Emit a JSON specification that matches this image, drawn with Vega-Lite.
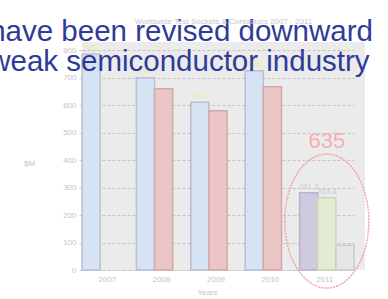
{
  "$schema": "https://vega.github.io/schema/vega-lite/v6.json",
  "width": 283,
  "height": 228,
  "autosize": {"type": "none"},
  "padding": {"left": 82, "top": 42, "right": 23, "bottom": 29},
  "background": "white",
  "config": {
    "font": "Liberation Sans",
    "view": {"fill": "#ebebeb", "stroke": null},
    "axisY": {"tickCount": 9, "labelOverlap": false, "grid": true, "gridColor": "#c4c4c4", "gridDash": [3, 2], "domain": false, "tickColor": "#cccccc", "tickSize": 3, "labelFontSize": 8, "labelColor": "#c4c4c4", "labelPadding": 3},
    "axisX": {"labelAngle": 0, "labelFontSize": 8, "labelColor": "#c4c4c4", "labelOffset": -2, "labelPadding": 5, "ticks": false, "domainColor": "#cccccc", "domainDash": [2, 1], "grid": false}
  },
  "title": {"text": "Worldwide Test Sockets & Contactors 2007 - 2011", "fontSize": 8, "fontWeight": "normal", "color": "#c8c8c8", "offset": -9, "anchor": "middle", "frame": "group"},
  "datasets": {
    "bars": [
      {"year": "2007", "bar": "first", "segment": "Earlier estimate", "value": 785},
      {"year": "2008", "bar": "first", "segment": "Earlier estimate", "value": 700},
      {"year": "2008", "bar": "second", "segment": "Revised estimate", "value": 660},
      {"year": "2009", "bar": "first", "segment": "Earlier estimate", "value": 611},
      {"year": "2009", "bar": "second", "segment": "Revised estimate", "value": 580},
      {"year": "2010", "bar": "first", "segment": "Earlier estimate", "value": 725},
      {"year": "2010", "bar": "second", "segment": "Revised estimate", "value": 667},
      {"year": "2011", "bar": "first", "segment": "2011 part A", "value": 281.2},
      {"year": "2011", "bar": "second", "segment": "2011 part B", "value": 263.4},
      {"year": "2011", "bar": "third", "segment": "2011 part C", "value": 90.4}
    ]
  },
  "layer": [
    {
      "data": {"name": "bars"},
      "mark": {"type": "bar", "strokeWidth": 1.5},
      "encoding": {
        "x": {
          "field": "year", "type": "nominal",
          "scale": {"range": [0, 272], "paddingInner": 0, "paddingOuter": 0},
          "axis": {"title": "Years", "titleFontSize": 8, "titleFontWeight": "normal", "titleColor": "#c4c4c4", "titlePadding": 5, "titleX": 125}
        },
        "xOffset": {"field": "bar", "type": "nominal", "scale": {"domain": ["first", "second", "third"], "paddingInner": 0, "paddingOuter": 0}},
        "y": {
          "field": "value", "type": "quantitative",
          "scale": {"domain": [0, 830], "nice": false},
          "axis": {"title": "$M", "titleAngle": 0, "titleFontSize": 8, "titleFontWeight": "normal", "titleColor": "#c0c0c0", "titleX": -53, "titleY": 121, "titleAlign": "center", "titleBaseline": "middle"}
        },
        "color": {"field": "segment", "type": "nominal", "legend": null,
          "scale": {"domain": ["Earlier estimate", "Revised estimate", "2011 part A", "2011 part B", "2011 part C"], "range": ["#d6e3f4", "#ecc6c6", "#d0c9df", "#e3ecd2", "#e6e6e6"]}},
        "stroke": {"field": "segment", "type": "nominal", "legend": null,
          "scale": {"domain": ["Earlier estimate", "Revised estimate", "2011 part A", "2011 part B", "2011 part C"], "range": ["#b9c0cf", "#d2a9a9", "#bab2cb", "#cbd8b6", "#cccccc"]}}
      }
    },
    {
      "data": {"name": "bars"},
      "transform": [{"filter": "datum.bar == 'first' && datum.year != '2011'"}],
      "mark": {"type": "text", "fontSize": 8, "color": "#ecec9c", "dy": -6},
      "encoding": {
        "x": {"field": "year", "type": "nominal"},
        "xOffset": {"field": "bar", "type": "nominal"},
        "y": {"field": "value", "type": "quantitative"},
        "text": {"field": "value", "type": "quantitative", "format": "d"}
      }
    },
    {
      "data": {"name": "bars"},
      "transform": [{"filter": "datum.year == '2011' && datum.bar != 'third'"}],
      "mark": {"type": "text", "fontSize": 8, "color": "#cfc8dc", "dy": -6},
      "encoding": {
        "x": {"field": "year", "type": "nominal"},
        "xOffset": {"field": "bar", "type": "nominal"},
        "y": {"field": "value", "type": "quantitative"},
        "text": {"field": "value", "type": "quantitative", "format": ".1f"}
      }
    },
    {
      "data": {"values": [{"total": 635}]},
      "mark": {"type": "text", "fontSize": 22, "color": "#f4b0b0", "baseline": "middle"},
      "encoding": {
        "x": {"datum": "2011"},
        "y": {"datum": 471},
        "text": {"field": "total", "type": "quantitative"}
      }
    },
    {
      "data": {"values": [{"note": "2011"}]},
      "mark": {"type": "point", "shape": "M -0.627 0 A 0.627 1 0 1 0 0.627 0 A 0.627 1 0 1 0 -0.627 0 Z", "size": 17956, "filled": false, "stroke": "#f4a4a4", "strokeWidth": 1.5, "strokeDash": [2, 1], "opacity": 1},
      "encoding": {
        "x": {"datum": "2011"},
        "y": {"datum": 178}
      }
    },
    {
      "data": {"values": [{"note": "revision"}]},
      "mark": {"type": "text", "text": ["have been revised downward", "weak semiconductor industry"], "fontSize": 29.5, "lineHeight": 30, "color": "#2e3b98", "align": "left", "baseline": "alphabetic", "dx": -120},
      "encoding": {
        "x": {"datum": "2007"},
        "y": {"datum": 833}
      }
    }
  ]
}
